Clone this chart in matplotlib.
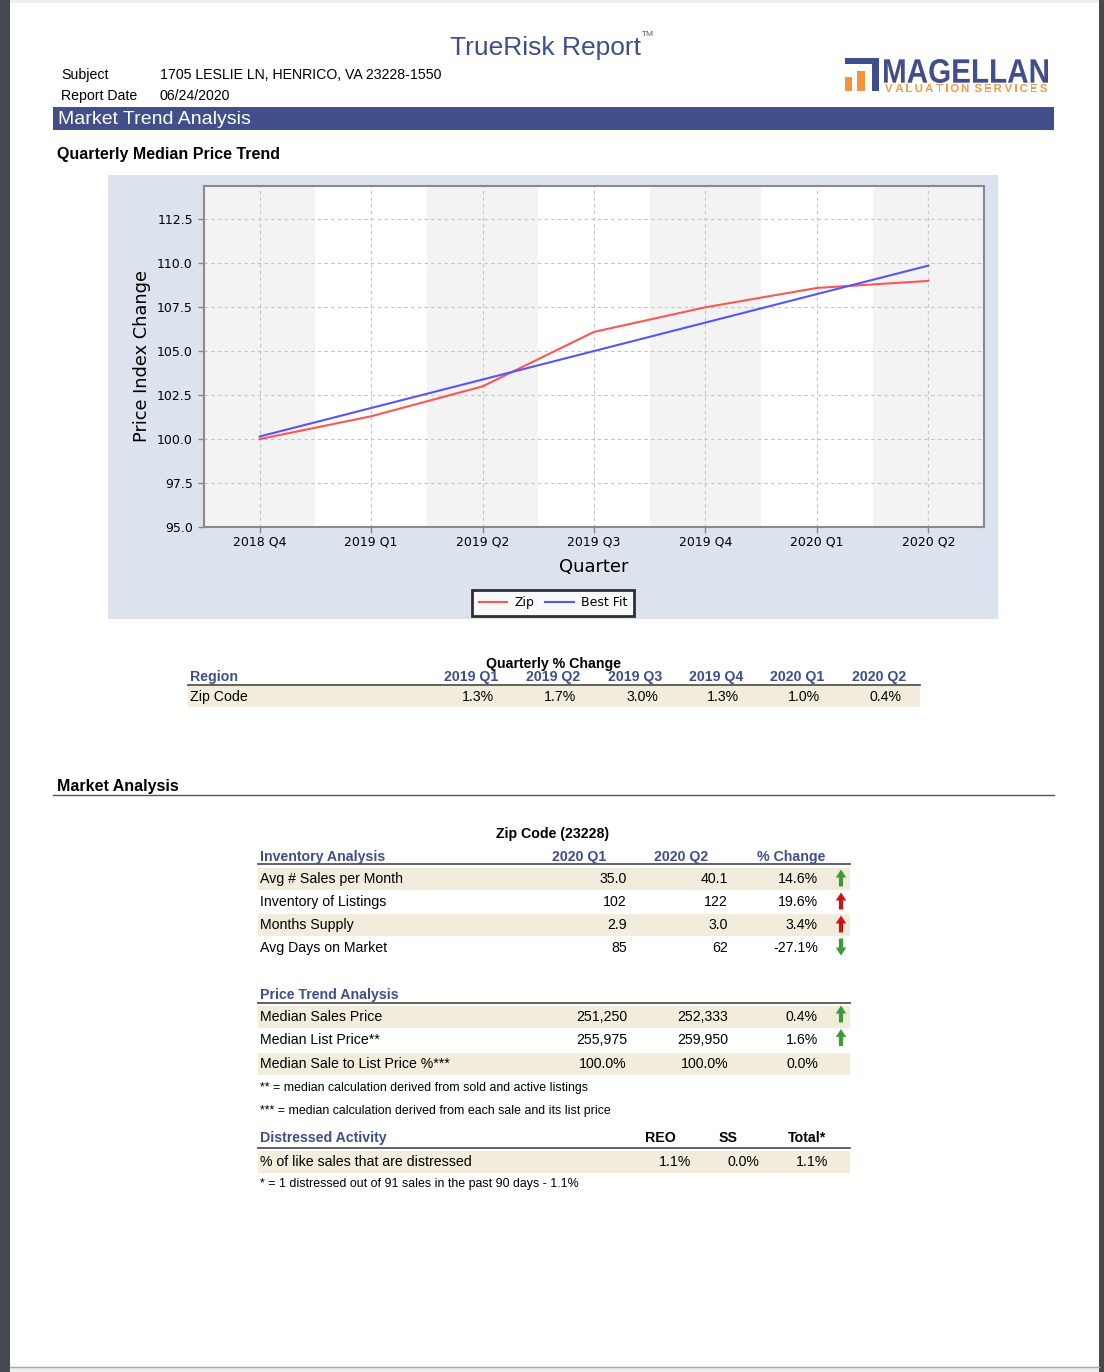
import matplotlib
matplotlib.use("Agg")
import matplotlib.pyplot as plt
from matplotlib.patches import Rectangle, FancyArrow, PathPatch
from matplotlib.textpath import TextPath
from matplotlib.font_manager import FontProperties
from matplotlib.transforms import Affine2D

W, H = 1104, 1372

# chart data
quarters = ["2018 Q4", "2019 Q1", "2019 Q2", "2019 Q3", "2019 Q4", "2020 Q1", "2020 Q2"]
zip_index = [100.0, 101.3, 103.0, 106.1, 107.5, 108.6, 109.0]
best_fit = [100.15, 101.77, 103.39, 105.01, 106.63, 108.25, 109.87]
y_ticks = [95.0, 97.5, 100.0, 102.5, 105.0, 107.5, 110.0, 112.5]

# quarterly % change table
pct_quarters = ["2019 Q1", "2019 Q2", "2019 Q3", "2019 Q4", "2020 Q1", "2020 Q2"]
pct_zip = ["1.3%", "1.7%", "3.0%", "1.3%", "1.0%", "0.4%"]

# market analysis tables
inv_cols = ["2020 Q1", "2020 Q2", "% Change"]
inv_rows = ["Avg # Sales per Month", "Inventory of Listings", "Months Supply", "Avg Days on Market"]
inv_q1 = ["35.0", "102", "2.9", "85"]
inv_q2 = ["40.1", "122", "3.0", "62"]
inv_chg = ["14.6%", "19.6%", "3.4%", "-27.1%"]
inv_arrow = ["up", "up", "up", "down"]
inv_good = [True, False, False, True]

price_rows = ["Median Sales Price", "Median List Price**", "Median Sale to List Price %***"]
price_q1 = ["251,250", "255,975", "100.0%"]
price_q2 = ["252,333", "259,950", "100.0%"]
price_chg = ["0.4%", "1.6%", "0.0%"]
price_arrow = ["up", "up", None]
price_good = [True, True, True]

dist_cols = ["REO", "SS", "Total*"]
dist_vals = ["1.1%", "0.0%", "1.1%"]

BLUE = "#414e8c"
BEIGE = "#f2ecdd"
GREEN = "#3c9a3c"
RED = "#cc1414"
ORANGE = "#f7923a"
FONT = ["Liberation Sans", "DejaVu Sans"]

fig = plt.figure(figsize=(W / 100, H / 100), dpi=100)
page = fig.add_axes([0, 0, 1, 1], zorder=0)
page.set_xlim(0, W)
page.set_ylim(H, 0)
page.axis("off")


def txt(x, y, s, size=10.2, ha="left", color="black", bold=False, **kw):
    page.text(x, y, s, fontsize=size, ha=ha, va="center", color=color,
              family=FONT, fontweight="bold" if bold else "normal", **kw)


def rect(x0, y0, x1, y1, color, **kw):
    page.add_patch(Rectangle((x0, y0), x1 - x0, y1 - y0, facecolor=color,
                             edgecolor="none", **kw))


def boxed_text(s, x0, x1, y_top, y_base, color, bold=True):
    # stretch a text path so it fills the given pixel box
    prop = FontProperties(family="Liberation Sans", weight="bold" if bold else "normal")
    tp = TextPath((0, 0), s, size=10, prop=prop)
    ext = tp.get_extents()
    sx = (x1 - x0) / ext.width
    sy = (y_base - y_top) / ext.height
    tr = Affine2D().translate(-ext.x0, -ext.y0).scale(sx, -sy).translate(x0, y_base)
    page.add_patch(PathPatch(tr.transform_path(tp), facecolor=color, edgecolor="none"))


def tracked_text(s, x0, x1, y_top, y_base, color):
    # letter-spaced caps that span x0..x1
    prop = FontProperties(family="Liberation Sans", weight="bold")
    paths = []
    for ch in s:
        if ch == " ":
            paths.append(None)
            continue
        tp = TextPath((0, 0), ch, size=10, prop=prop)
        paths.append((tp, tp.get_extents()))
    cap = max(p[1].y1 for p in paths if p)
    sc = (y_base - y_top) / cap
    widths = [p[1].width * sc if p else 0 for p in paths]
    gap = (x1 - x0 - sum(widths)) / (len(s) - 1)
    xc = x0
    for p, w in zip(paths, widths):
        if p:
            tp, ext = p
            tr = Affine2D().translate(-ext.x0, 0).scale(sc, -sc).translate(xc, y_base)
            page.add_patch(PathPatch(tr.transform_path(tp), facecolor=color,
                                     edgecolor="none"))
        xc += w + gap


def arrow(x, yc, direction, good):
    col = GREEN if good else RED
    if direction == "up":
        y0, dy = yc + 8.5, -17
    else:
        y0, dy = yc - 8.5, 17
    page.add_patch(FancyArrow(x, y0, 0, dy, width=4.2, head_width=10.5, head_length=8,
                              length_includes_head=True, color=col, lw=0))


# page frame
rect(0, 0, 10, H, "#45494d")
rect(1099, 0, W, H, "#45494d")
rect(10, 0, 1099, 3, "#eeeeee")
rect(10, 1367, 1099, H, "#efefef")
page.plot([10, 1099], [1367, 1367], color="#aaaaaa", lw=1)

# header
txt(545, 48, "TrueRisk Report", size=19, ha="center", color=BLUE)
txt(648, 34, "TM", size=6, ha="center", color="#555555")
txt(61, 75, "Subject", size=10.2)
txt(160, 75, "1705 LESLIE LN, HENRICO, VA 23228-1550", size=10.2)
txt(61, 96, "Report Date", size=10.2)
txt(160, 96, "06/24/2020", size=10.2)

# logo
rect(845, 58, 879, 64, BLUE)
rect(872, 58, 879, 91, BLUE)
rect(845, 77, 852, 91, ORANGE)
rect(857, 71, 865, 91, ORANGE)
boxed_text("MAGELLAN", 884, 1048, 59, 83, BLUE)
tracked_text("VALUATION SERVICES", 885, 1047, 84, 92, "#f59a45")

# section band
rect(53, 107, 1054, 130, "#434f8a")
txt(58, 119, "Market Trend Analysis", size=14, color="white")
txt(57, 155, "Quarterly Median Price Trend", size=11.5, bold=True)

# chart panel
rect(108, 175, 998, 619, "#dce3ee")

ax = fig.add_axes([204 / W, 1 - 527 / H, (984 - 204) / W, (527 - 186) / H], zorder=2)
ax.set_facecolor("white")
x = list(range(len(quarters)))
for i in x[::2]:
    ax.axvspan(i - 0.5, i + 0.5, color="#f3f3f3", lw=0, zorder=0)
ax.plot(x, zip_index, color="#ff5555", lw=1.5, label="Zip", zorder=3)
ax.plot(x, best_fit, color="#5555ff", lw=1.5, label="Best Fit", zorder=3)
ax.set_xlim(-0.5, 6.5)
ax.set_ylim(95, 114.4)
ax.set_xticks(x)
ax.set_xticklabels(quarters)
ax.set_yticks(y_ticks)
ax.set_yticklabels([f"{v:.1f}" for v in y_ticks])
ax.grid(True, color="#c4c4c4", ls=(0, (3, 3)), lw=0.8, zorder=1)
ax.set_axisbelow(True)
for s in ax.spines.values():
    s.set_color("#8a8a8a")
    s.set_linewidth(1.5)
ax.tick_params(axis="both", labelsize=9, colors="#8a8a8a", labelcolor="black",
               length=4, width=1)
ax.tick_params(axis="x", pad=2)
ax.tick_params(axis="y", pad=4)
ax.set_xlabel("Quarter", fontsize=12.9, labelpad=7)
ax.set_ylabel("Price Index Change", fontsize=12.8, labelpad=4)
leg = ax.legend(loc="center", bbox_to_anchor=(553 / W, 1 - 603 / H),
                bbox_transform=fig.transFigure, ncol=2, frameon=True, fancybox=False,
                edgecolor="black", fontsize=9, handlelength=2.3, columnspacing=0.8,
                borderpad=0.5, handletextpad=0.6)
leg.get_frame().set_linewidth(2)

# quarterly % change table
txt(553, 664, "Quarterly % Change", size=10.2, ha="center", bold=True)
txt(190, 677, "Region", size=10.2, color=BLUE, bold=True)
pct_right = [498, 580, 662, 743, 824, 906]
for q, xr in zip(pct_quarters, pct_right):
    txt(xr, 677, q, size=10.2, ha="right", color=BLUE, bold=True)
page.plot([188, 920], [685, 685], color="#555555", lw=1.3)
rect(188, 686, 920, 707, BEIGE)
txt(190, 697, "Zip Code", size=10.2)
for v, xr in zip(pct_zip, pct_right):
    txt(xr - 4, 697, v, size=10.2, ha="right")

# market analysis
txt(57, 786, "Market Analysis", size=11.5, bold=True)
page.plot([53, 1054], [795, 795], color="#555555", lw=1)
txt(553, 834, "Zip Code (23228)", size=10.2, ha="center", bold=True)

col_hdr = [606, 708, 825]
col_val = [627, 728, 818]

txt(260, 857, "Inventory Analysis", size=10.2, color=BLUE, bold=True)
for c, xr in zip(inv_cols, col_hdr):
    txt(xr, 857, c, size=10.2, ha="right", color=BLUE, bold=True)
page.plot([258, 850], [864, 864], color="#555555", lw=1.3)
for i, name in enumerate(inv_rows):
    yc = 879 + 23 * i
    if i % 2 == 0:
        rect(258, yc - 11, 850, yc + 11, BEIGE)
    txt(260, yc, name)
    for v, xr in zip([inv_q1[i], inv_q2[i], inv_chg[i]], col_val):
        txt(xr, yc, v, ha="right")
    arrow(841, yc - 1, inv_arrow[i], inv_good[i])

txt(260, 995, "Price Trend Analysis", size=10.2, color=BLUE, bold=True)
page.plot([258, 850], [1003, 1003], color="#555555", lw=1.3)
for i, name in enumerate(price_rows):
    yc = 1017 + 23.5 * i
    if i % 2 == 0:
        rect(258, yc - 11, 850, yc + 11, BEIGE)
    txt(260, yc, name)
    for v, xr in zip([price_q1[i], price_q2[i], price_chg[i]], col_val):
        txt(xr, yc, v, ha="right")
    if price_arrow[i]:
        arrow(841, yc - 3, price_arrow[i], price_good[i])
txt(260, 1088, "** = median calculation derived from sold and active listings", size=8.9)
txt(260, 1111, "*** = median calculation derived from each sale and its list price", size=8.9)

txt(260, 1138, "Distressed Activity", size=10.2, color=BLUE, bold=True)
for c, xr in zip(dist_cols, [676, 738, 826]):
    txt(xr, 1138, c, size=10.2, ha="right", bold=True)
page.plot([258, 850], [1148, 1148], color="#555555", lw=1.3)
rect(258, 1151, 850, 1173, BEIGE)
txt(260, 1162, "% of like sales that are distressed")
for v, xr in zip(dist_vals, [691, 759, 828]):
    txt(xr, 1162, v, ha="right")
txt(260, 1184, "* = 1 distressed out of 91 sales in the past 90 days - 1.1%", size=8.9)

fig.savefig("out.png", dpi=100)
